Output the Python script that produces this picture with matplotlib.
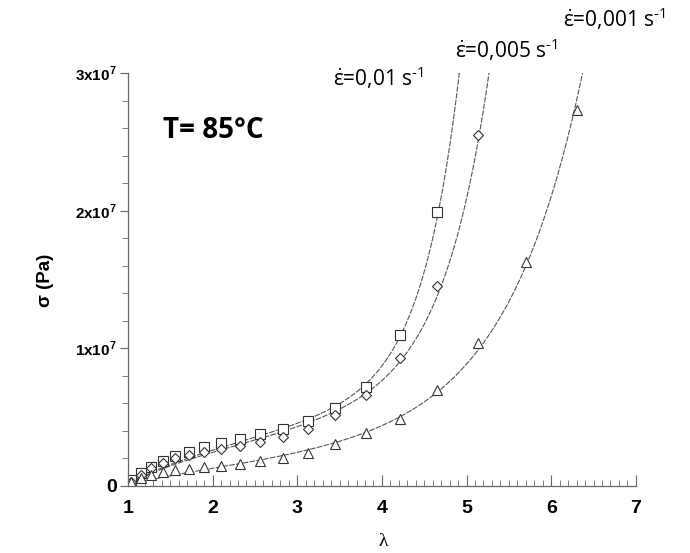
import numpy as np
import matplotlib
matplotlib.use("Agg")
import matplotlib.pyplot as plt

plt.rcParams['mathtext.fontset'] = 'custom'
plt.rcParams['mathtext.rm'] = 'Open Sans'
plt.rcParams['mathtext.bf'] = 'Liberation Sans:bold'

# ---- data (stretch ratio lambda, stress in units of 1e6 Pa) ----
lam_grid = [1.04, 1.15, 1.27, 1.41, 1.55, 1.72, 1.90, 2.10, 2.32, 2.56,
            2.83, 3.13, 3.45, 3.81, 4.21, 4.65, 5.14, 5.70, 6.30]

sig_001 = [0.45, 0.95, 1.4, 1.8, 2.2, 2.5, 2.8, 3.1, 3.4, 3.75,
           4.15, 4.7, 5.7, 7.2, 11.0, 19.9]                       # eps_dot = 0.01
sig_0005 = [0.3, 0.8, 1.3, 1.67, 2.0, 2.25, 2.5, 2.7, 2.9, 3.2,
            3.58, 4.15, 5.15, 6.6, 9.3, 14.5, 25.5]                # eps_dot = 0.005
sig_0001 = [0.3, 0.55, 0.8, 1.0, 1.15, 1.25, 1.38, 1.45, 1.6, 1.8,
            2.05, 2.4, 3.05, 3.85, 4.9, 7.0, 10.4, 16.3, 27.3]     # eps_dot = 0.001

# model-fit curves (anchor points)
fit_lam_001 = [1.0, 1.5, 2.0, 2.56, 3.13, 3.45, 3.81, 4.21, 4.65, 4.92]
fit_sig_001 = [0.0, 1.9, 2.65, 3.35, 4.65, 5.8, 7.5, 11.0, 19.5, 30.0]
fit_lam_0005 = [1.0, 1.5, 2.0, 2.56, 3.13, 3.45, 3.81, 4.21, 4.65, 5.14, 5.29]
fit_sig_0005 = [0.0, 1.85, 2.6, 3.2, 4.3, 5.2, 6.6, 9.3, 14.5, 25.5, 30.0]
fit_lam_0001 = [1.0, 1.5, 2.0, 2.56, 3.13, 3.81, 4.21, 4.65, 5.14, 5.70, 6.30, 6.38]
fit_sig_0001 = [0.0, 0.95, 1.35, 1.75, 2.45, 3.85, 4.9, 7.0, 10.4, 16.3, 27.3, 30.0]

labels = [r'$\dot{\mathrm{ε}}$=0,01 s$^{\mathrm{‐1}}$', r'$\dot{\mathrm{ε}}$=0,005 s$^{\mathrm{‐1}}$',
          r'$\dot{\mathrm{ε}}$=0,001 s$^{\mathrm{‐1}}$']
xticks = [1, 2, 3, 4, 5, 6, 7]
yticks = [0, 1e7, 2e7, 3e7]
yticklabels = ['0', r'1x10$^{\mathbf{7}}$', r'2x10$^{\mathbf{7}}$', r'3x10$^{\mathbf{7}}$']


def fit_model(lam, sig):
    lam = np.asarray(lam, float)
    sig = np.asarray(sig, float)
    w = 1.0 / (sig + 1.0)
    best = None
    for k in np.linspace(0.2, 8, 800):
        X = np.column_stack([lam - 1 / lam**2, np.expm1(k * (lam - 1))])
        coef, *_ = np.linalg.lstsq(X * w[:, None], sig * w, rcond=None)
        r = np.sum(((X @ coef - sig) * w) ** 2)
        if best is None or r < best[0]:
            best = (r, k, coef)
    _, k, coef = best
    return lambda l: coef[0] * (l - 1 / l**2) + coef[1] * np.expm1(k * (l - 1))


fig = plt.figure(figsize=(6.9, 5.53), dpi=100)
ax = fig.add_axes([0.1855, 0.1212, 0.736, 0.7468])

line_kw = dict(color='#555555', lw=0.8, linestyle=(0, (5, 1.2)))
for fl, fs in [(fit_lam_001, fit_sig_001), (fit_lam_0005, fit_sig_0005),
               (fit_lam_0001, fit_sig_0001)]:
    f = fit_model(fl, fs)
    ll = np.linspace(1.0, fl[-1] + 0.05, 400)
    ax.plot(ll, f(ll) * 1e6, **line_kw)

mk = dict(linestyle='none', mfc='white', mec='#333333', mew=0.8)
ax.plot(lam_grid[:len(sig_001)], np.array(sig_001) * 1e6, marker='s', ms=6.5, **mk)
ax.plot(lam_grid[:len(sig_0005)], np.array(sig_0005) * 1e6, marker='D', ms=5.5, **mk)
ax.plot(lam_grid[:len(sig_0001)], np.array(sig_0001) * 1e6, marker='^', ms=7, **mk)

ax.set_xlim(1, 7)
ax.set_ylim(0, 3e7)
for s in ['top', 'right']:
    ax.spines[s].set_visible(False)
for s in ['left', 'bottom']:
    ax.spines[s].set_color('#666666')
    ax.spines[s].set_linewidth(0.9)

ax.set_xticks(xticks)
ax.set_xticklabels([str(t) for t in xticks], fontsize=14, fontweight='bold',
                   family='Liberation Sans')
ax.set_xticks(np.arange(1, 7.001, 0.1), minor=True)
ax.set_yticks(yticks)
ax.set_yticklabels(yticklabels, fontsize=11, fontweight='bold', family='Liberation Sans')
ax.get_yticklabels()[0].set_fontsize(14)
ax.set_yticks(np.arange(0, 3.0001e7, 2e6), minor=True)
ax.tick_params(axis='x', which='major', direction='in', length=8, width=0.8, color='#666666', pad=10)
ax.tick_params(axis='x', which='minor', direction='in', length=4, width=0.6, color='#666666')
ax.tick_params(axis='y', which='major', direction='out', length=6, width=0.8, color='#666666', pad=2)
ax.tick_params(axis='y', which='minor', direction='out', length=4, width=0.6, color='#666666')

fig.text(45 / 690, 1 - 280 / 553, 'σ (Pa)', rotation=90, ha='center', va='center',
         fontsize=13.5, fontweight='bold', family='Liberation Sans')
fig.text(383 / 690, 1 - 541 / 553, 'λ', ha='center', va='center', fontsize=14,
         family='Liberation Serif')

fig.text(163 / 690, 1 - 131 / 553, 'T= 85°C', ha='left', va='center', fontsize=20,
         fontweight='bold', family='Open Sans')

fs_lab = 15
fig.text(333 / 690, 1 - 78 / 553, labels[0], ha='left', va='center', fontsize=fs_lab, family='Open Sans')
fig.text(455 / 690, 1 - 50 / 553, labels[1], ha='left', va='center', fontsize=fs_lab, family='Open Sans')
fig.text(563 / 690, 1 - 19 / 553, labels[2], ha='left', va='center', fontsize=fs_lab, family='Open Sans')

fig.savefig('out.png', dpi=100)
